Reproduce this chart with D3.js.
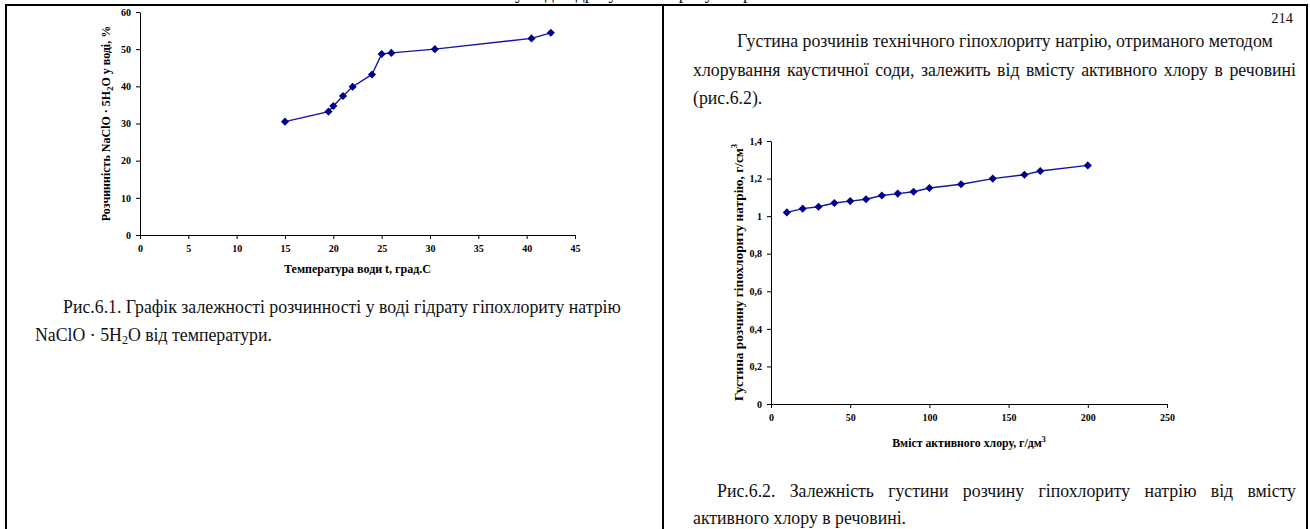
<!DOCTYPE html>
<html lang="uk">
<head>
<meta charset="UTF-8">
<title>Рис.6.1 / Рис.6.2</title>
<script src="https://cdn.jsdelivr.net/npm/d3@7"></script>
<style>
  html, body { margin: 0; padding: 0; background: #fff; }
  svg { display: block; }
  .body-text { font-family: "Liberation Serif", "Times New Roman", serif; font-size: 17.8px; fill: #111; }
  .tick text { font-family: "Liberation Serif", serif; font-weight: bold; font-size: 10px; fill: #000; }
  .axis-title { font-family: "Liberation Serif", serif; font-weight: bold; font-size: 12px; fill: #000; }
</style>
</head>
<body>
<svg id="page" width="1310" height="529"></svg>
<script>
// --- Рис.6.1: розчинність NaClO·5H2O у воді від температури
const tempC      = [15, 19.5, 20, 21, 22, 24, 25, 26, 30.5, 40.5, 42.5];
const solubility = [30.5, 33.2, 34.7, 37.4, 39.9, 43.2, 48.7, 49.0, 50.0, 52.9, 54.4];
const xTicks1    = [0, 5, 10, 15, 20, 25, 30, 35, 40, 45];
const yTicks1    = [0, 10, 20, 30, 40, 50, 60];

// --- Рис.6.2: густина розчину від вмісту активного хлору
const chlorine   = [10, 20, 30, 40, 50, 60, 70, 80, 90, 100, 120, 140, 160, 170, 200];
const density    = [1.02, 1.04, 1.05, 1.07, 1.08, 1.09, 1.11, 1.12, 1.13, 1.15, 1.17, 1.20, 1.22, 1.24, 1.27];
const xTicks2    = [0, 50, 100, 150, 200, 250];
const yTicks2    = [0, 0.2, 0.4, 0.6, 0.8, 1, 1.2, 1.4];
const yLabels2   = ["0", "0,2", "0,4", "0,6", "0,8", "1", "1,2", "1,4"];

const svg = d3.select("#page");
const lineColor = "#1414a8", markColor = "#00008a";

// page frame (scanned table cells)
const frame = svg.append("g").attr("stroke", "#000").attr("stroke-width", 2);
frame.append("line").attr("x1", 5).attr("x2", 1308).attr("y1", 5).attr("y2", 5);
frame.append("line").attr("x1", 6).attr("x2", 6).attr("y1", 5).attr("y2", 529);
frame.append("line").attr("x1", 663).attr("x2", 663).attr("y1", 5).attr("y2", 529);
frame.append("line").attr("x1", 1307).attr("x2", 1307).attr("y1", 5).attr("y2", 529);

// remnant of the line above, cut by the frame
svg.append("text").attr("class", "body-text").attr("x", 515).attr("y", -1)
  .text("у воді гідрату гіпохлориту натрію");

function chart(cfg) {
  const g = svg.append("g");
  const x = d3.scaleLinear().domain(cfg.xDomain).range(cfg.xRange);
  const y = d3.scaleLinear().domain(cfg.yDomain).range(cfg.yRange);

  g.append("g")
    .attr("transform", `translate(0,${cfg.yRange[0]})`)
    .call(d3.axisBottom(x).tickValues(cfg.xTicks).tickSize(4).tickSizeOuter(0).tickPadding(6))
    .call(a => a.selectAll("line,path").attr("stroke", "#000"));

  g.append("g")
    .attr("transform", `translate(${cfg.xRange[0]},0)`)
    .call(d3.axisLeft(y).tickValues(cfg.yTicks).tickSize(4).tickSizeOuter(0).tickPadding(5)
      .tickFormat((d, i) => cfg.yLabels ? cfg.yLabels[i] : d))
    .call(a => a.selectAll("line,path").attr("stroke", "#000"));

  const pts = cfg.xs.map((v, i) => [v, cfg.ys[i]]);
  g.append("path")
    .attr("d", d3.line().x(d => x(d[0])).y(d => y(d[1]))(pts))
    .attr("fill", "none").attr("stroke", lineColor).attr("stroke-width", 1.4);

  g.selectAll(".pt").data(pts).join("path")
    .attr("class", "pt")
    .attr("transform", d => `translate(${x(d[0])},${y(d[1])})`)
    .attr("d", d3.symbol(d3.symbolDiamond2, 42))
    .attr("fill", markColor);

  // axis titles
  const xt = g.append("text").attr("class", "axis-title")
    .attr("x", (cfg.xRange[0] + cfg.xRange[1]) / 2).attr("y", cfg.xTitleY)
    .attr("text-anchor", "middle").style("font-size", cfg.xTitleSize);
  cfg.xTitle.forEach(p => xt.append("tspan").text(p.t)
    .style("font-size", p.sup ? "8px" : null).attr("dy", p.sup ? -5 : null));

  const cy = (cfg.yRange[0] + cfg.yRange[1]) / 2;
  const yt = g.append("text").attr("class", "axis-title")
    .attr("transform", `translate(${cfg.yTitleX},${cy}) rotate(-90)`)
    .attr("text-anchor", "middle")
    .style("font-size", cfg.yTitleSize);
  cfg.yTitle.forEach(p => yt.append("tspan").text(p.t)
    .style("font-size", p.sub || p.sup ? "8.5px" : null)
    .attr("dy", p.sub ? 3 : p.sup ? -6 : p.back ? p.back : null));
}

chart({
  xs: tempC, ys: solubility,
  xDomain: [0, 45], xRange: [140, 575],
  yDomain: [0, 60], yRange: [235, 12],
  xTicks: xTicks1, yTicks: yTicks1,
  xTitle: [{t: "Температура води t, град.С"}], xTitleY: 273, xTitleSize: "12px",
  yTitle: [{t: "Розчинність NaClO · 5H"}, {t: "2", sub: true}, {t: "O у воді, %", back: -3}],
  yTitleX: 110, yTitleSize: "12px"
});

chart({
  xs: chlorine, ys: density,
  xDomain: [0, 250], xRange: [771, 1167],
  yDomain: [0, 1.4], yRange: [404, 141],
  xTicks: xTicks2, yTicks: yTicks2, yLabels: yLabels2,
  xTitle: [{t: "Вміст активного хлору, г/дм"}, {t: "3", sup: true}], xTitleY: 447, xTitleSize: "11.8px",
  yTitle: [{t: "Густина розчину гіпохлориту натрію, г/см"}, {t: "3", sup: true}],
  yTitleX: 743, yTitleSize: "13.3px"
});

// --- body text
function plain(str, x0, yb) {
  return svg.append("text").attr("class", "body-text").attr("x", x0).attr("y", yb).text(str);
}
function justify(str, x0, x1, yb) {
  const words = str.split(" ");
  const nodes = words.map(w => svg.append("text").attr("class", "body-text").attr("y", yb).text(w));
  const widths = nodes.map(n => n.node().getComputedTextLength());
  const gap = (x1 - x0 - d3.sum(widths)) / (words.length - 1);
  let cx = x0;
  nodes.forEach((n, i) => { n.attr("x", cx); cx += widths[i] + gap; });
}

svg.append("text").attr("class", "body-text").attr("x", 1293).attr("y", 23)
  .attr("text-anchor", "end").style("font-size", "14.5px").text("214");

plain("Густина розчинів технічного гіпохлориту натрію, отриманого методом", 737, 47);
justify("хлорування каустичної соди, залежить від вмісту активного хлору в речовині", 693, 1296, 76);
plain("(рис.6.2).", 693, 104);

plain("Рис.6.1. Графік залежності розчинності у воді гідрату гіпохлориту натрію", 63, 313);
const cap = svg.append("text").attr("class", "body-text").attr("x", 35).attr("y", 341);
cap.append("tspan").text("NaClO · 5H");
cap.append("tspan").text("2").style("font-size", "12px").attr("dy", 3);
cap.append("tspan").text("O від температури.").attr("dy", -3);

justify("Рис.6.2. Залежність густини розчину гіпохлориту натрію від вмісту", 717, 1296, 497);
plain("активного хлору в речовині.", 693, 524);
</script>
</body>
</html>
